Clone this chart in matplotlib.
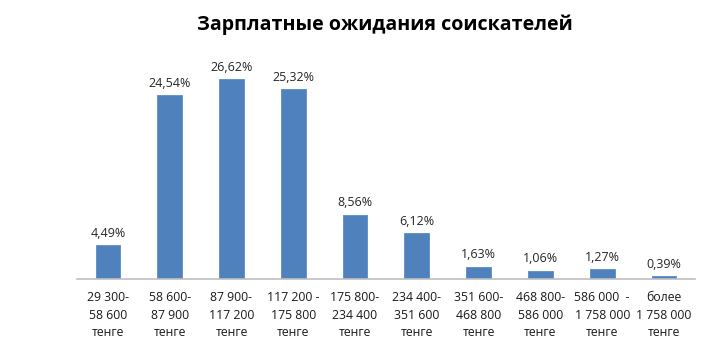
import matplotlib
matplotlib.use("Agg")
import matplotlib.pyplot as plt
import numpy as np

title = "Зарплатные ожидания соискателей"
categories = [
    "29 300-\n58 600\nтенге",
    "58 600-\n87 900\nтенге",
    "87 900-\n117 200\nтенге",
    "117 200 -\n175 800\nтенге",
    "175 800-\n234 400\nтенге",
    "234 400-\n351 600\nтенге",
    "351 600-\n468 800\nтенге",
    "468 800-\n586 000\nтенге",
    "586 000  -\n1 758 000\nтенге",
    "более\n1 758 000\nтенге",
]
shares = [4.49, 24.54, 26.62, 25.32, 8.56, 6.12, 1.63, 1.06, 1.27, 0.39]

plt.rcParams['font.family'] = ['Open Sans', 'DejaVu Sans']

fig = plt.figure(figsize=(7.21, 3.47), dpi=100)
ax = fig.add_axes([0.1068, 0.196, 0.857, 0.648])

x = np.arange(len(shares))
ax.bar(x, shares, width=0.4, color="#4F81BD", edgecolor="#5B8CC6", linewidth=0.6)

for xi, v in zip(x, shares):
    ax.annotate(f"{v:.2f}%".replace(".", ","), (xi, v), xytext=(0, 4),
                textcoords="offset points", ha="center", va="bottom",
                fontsize=9, color="#262626")

ax.set_xlim(-0.5, len(shares) - 0.5)
ax.set_ylim(0, 30)
ax.set_yticks([])
ax.set_xticks(x)
ax.set_xticklabels(categories, fontsize=8.8, color="#1a1a1a", linespacing=1.42)
ax.tick_params(axis="x", length=0, pad=9)
for side in ("top", "right", "left"):
    ax.spines[side].set_visible(False)
ax.spines["bottom"].set_color("#BFBFBF")
ax.spines["bottom"].set_linewidth(1.2)

fig.text(0.534, 0.93, title, ha="center", va="center",
         fontsize=14.1, fontweight="bold", color="#000000")

fig.savefig("out.png", dpi=100)
